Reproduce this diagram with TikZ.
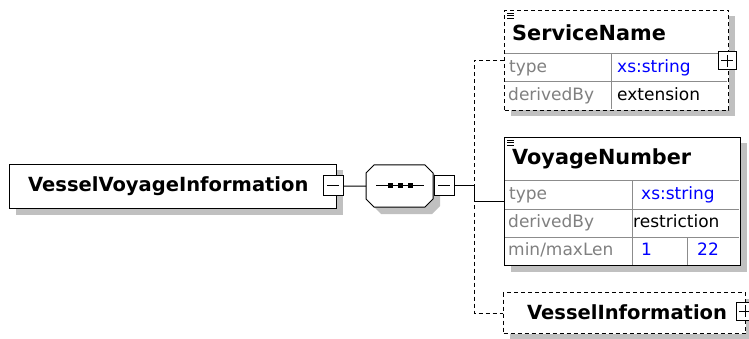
\documentclass[tikz,border=0pt]{standalone}
\usepackage{fontspec}
\setmainfont{DejaVu Sans}
\usetikzlibrary{shadows}
\definecolor{shd}{RGB}{192,192,192}
\definecolor{xsblue}{RGB}{0,0,255}
\definecolor{lbl}{RGB}{128,128,128}
\definecolor{gridc}{RGB}{140,140,140}
\tikzset{
  box/.style={draw=black, line width=1pt, fill=white, inner sep=0pt, anchor=north west,
    drop shadow={shadow xshift=6pt, shadow yshift=-6pt, opacity=1, fill=shd}},
  optbox/.style={box, dash pattern=on 4pt off 3pt},
  hdr/.style={font=\fontsize{19.5}{22}\selectfont\bfseries, anchor=west, inner sep=0pt},
  bighdr/.style={hdr, font=\fontsize{20.8}{23}\selectfont\bfseries},
  lab/.style={font=\fontsize{17}{20}\selectfont, anchor=west, inner sep=0pt, text=lbl,
    text height=12.5pt, text depth=3.5pt},
  val/.style={lab, text=black},
  bval/.style={lab, text=xsblue},
  gridline/.style={draw=gridc, line width=1pt},
  btn/.style={draw=black, line width=1pt, fill=white, minimum width=18pt, minimum height=18pt, inner sep=0pt},
  conn/.style={line width=1pt},
  optconn/.style={line width=1pt, dash pattern=on 4pt off 3pt},
  icon/.style={line width=0.9pt},
}
\begin{document}
\begin{tikzpicture}[x=1pt,y=-1pt]
\useasboundingbox[fill=white] (0,0) rectangle (749,339);

% main element
\node[box, minimum width=327pt, minimum height=44pt] (vvi) at (9,164) {};
\node[hdr] (vvit) at (28,186) {VesselVoyageInformation};
\node[btn, minimum width=20pt, minimum height=20pt] (vvim) at (333,186) {};
\draw[conn] ([xshift=-6pt]vvim.center) -- ([xshift=6pt]vvim.center);

% sequence compositor
\node[draw=none, anchor=north west, minimum width=67pt, minimum height=42pt, inner sep=0pt] (seq) at (366,165) {};
\fill[shd] (381,172) -- (432,172) -- (440,180) -- (440,206) -- (432,214) -- (381,214) -- (373,206) -- (373,180) -- cycle;
\draw[conn, fill=white] (374,165) -- (425,165) -- (433,173) -- (433,199) -- (425,207) -- (374,207) -- (366,199) -- (366,173) -- cycle;
\draw[conn] (376,186) -- (424,186);
\foreach \xx in {390,400,410} {\fill (\xx-2.5,183.5) rectangle (\xx+2.5,188.5);}
\node[btn, minimum width=20pt, minimum height=20pt] (seqm) at (444,186) {};
\draw[conn] ([xshift=-6pt]seqm.center) -- ([xshift=6pt]seqm.center);

% child boxes
\node[optbox, minimum width=224pt, minimum height=100pt] (sn) at (504,10) {};
\node[box, minimum width=236pt, minimum height=128pt] (vn) at (504,137) {};
\node[optbox, minimum width=242pt, minimum height=41pt] (vi) at (503,292) {};

% connectors
\coordinate (j) at (474,186);
\draw[conn] (vvim.east) -- (seq.west);
\draw[optconn] (sn.west) -| (j |- vi.west) -- (vi.west);
\draw[conn] (seqm.east) -- (j) |- (vn.west);

% ServiceName
\draw[gridline] (505,54) -- (727,54) (505,82) -- (727,82) (611,54) -- (611,109.5);
\draw[icon] (507,13) -- (514,13) (507,15.5) -- (514,15.5) (507,18) -- (514,18);
\node[bighdr] (snt) at (512,33) {ServiceName};
\node[lab] (snl1) at (509,68) {type};
\node[bval] (snv1) at (617,68) {xs:string};
\node[lab] (snl2) at (508,96) {derivedBy};
\node[val] (snv2) at (617,96) {extension};
\node[btn] (snp) at (727,61) {};
\draw[conn] ([xshift=-6pt]snp.center) -- ([xshift=6pt]snp.center) ([yshift=-6pt]snp.center) -- ([yshift=6pt]snp.center);

% VoyageNumber
\draw[gridline] (505,181) -- (739,181) (505,209) -- (739,209) (505,237) -- (739,237)
  (632,181) -- (632,264.5) (687,237) -- (687,264.5);
\draw[icon] (507,140) -- (514,140) (507,142.5) -- (514,142.5) (507,145) -- (514,145);
\node[bighdr] (vnt) at (512,159) {VoyageNumber};
\node[lab] (vnl1) at (509,195) {type};
\node[bval] (vnv1) at (641,195) {xs:string};
\node[lab] (vnl2) at (508,223) {derivedBy};
\node[val] (vnv2) at (633,223) {restriction};
\node[lab] (vnl3) at (508,251) {min/maxLen};
\node[bval] (vnv3) at (641,251) {1};
\node[bval] (vnv4) at (697,251) {22};

% VesselInformation
\node[hdr] (vit) at (527,312) {VesselInformation};
\node[btn] (vip) at (745,311) {};
\draw[conn] ([xshift=-6pt]vip.center) -- ([xshift=6pt]vip.center) ([yshift=-6pt]vip.center) -- ([yshift=6pt]vip.center);
\end{tikzpicture}
\end{document}
